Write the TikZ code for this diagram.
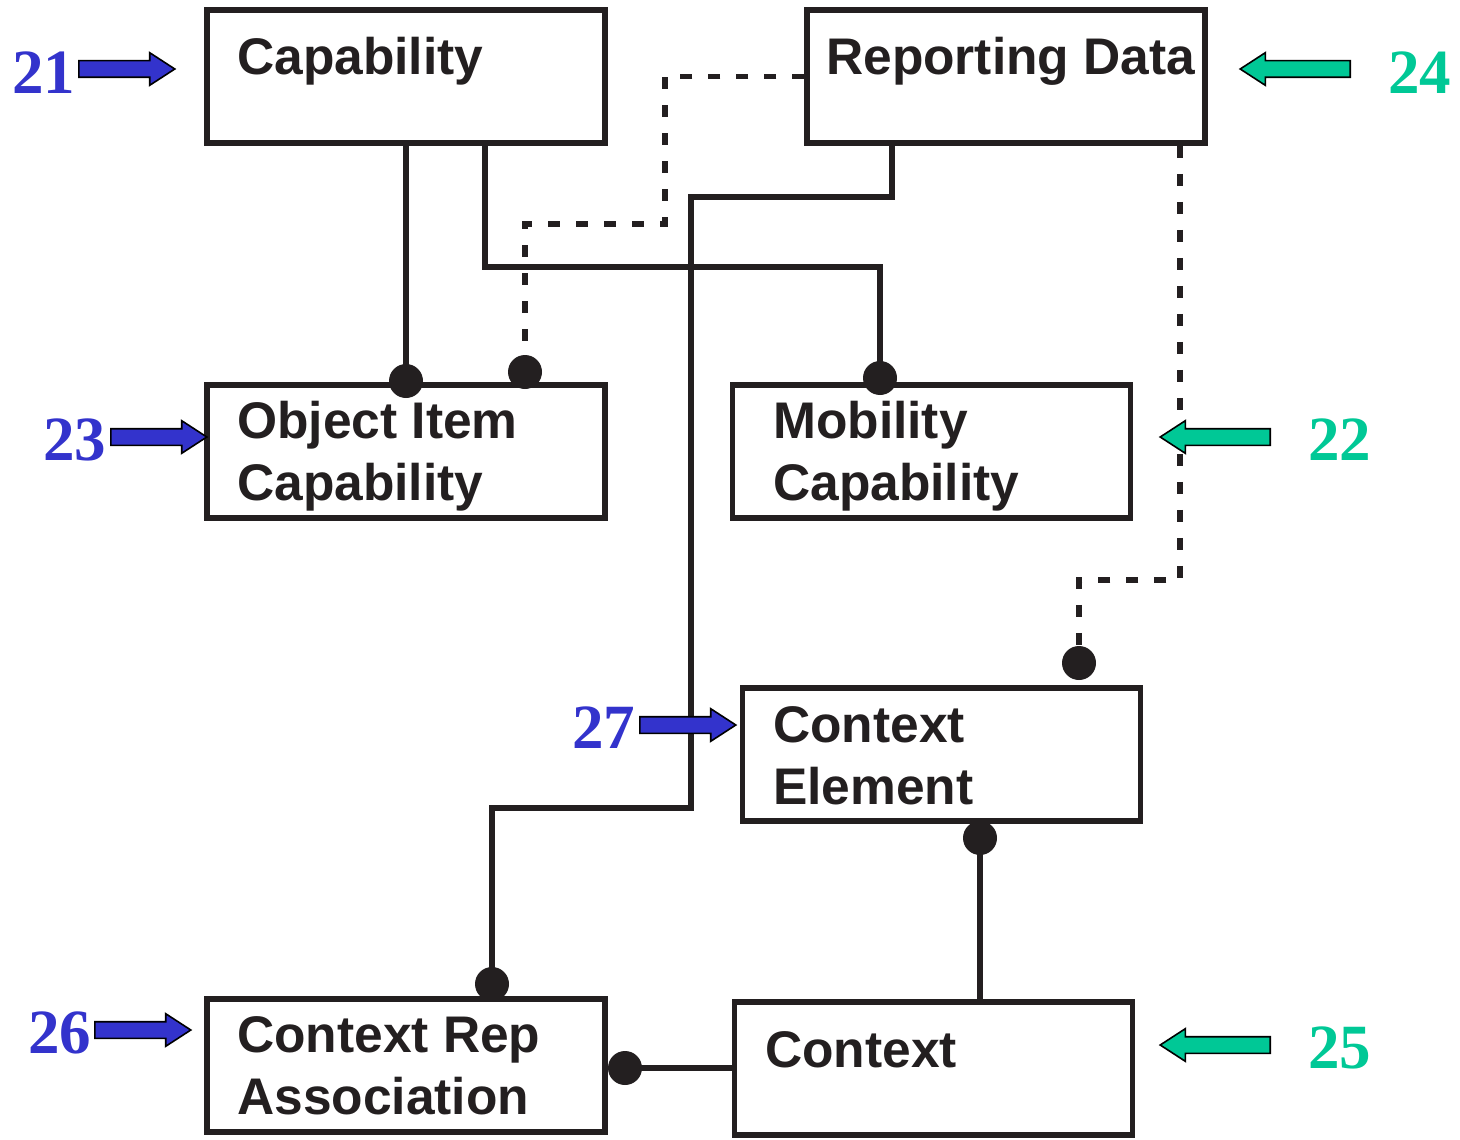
\documentclass[tikz,border=0pt]{standalone}
\usepackage{fontspec}
\setmainfont{Liberation Sans}
\newfontfamily\numfont{Liberation Serif}
\usetikzlibrary{shapes.arrows}
\definecolor{ink}{RGB}{35,31,32}
\definecolor{nblue}{RGB}{51,51,204}
\definecolor{ngreen}{RGB}{0,200,150}
\begin{document}
\begin{tikzpicture}[x=1pt,y=-1pt,
  box/.style={draw=ink,line width=5.5pt,minimum width=398pt,minimum height=133pt,inner sep=0pt},
  lbl/.style={anchor=base west,inner sep=0pt,text=ink,font=\bfseries\fontsize{51.5}{60}\selectfont},
  num/.style={anchor=base west,inner sep=0pt,font=\numfont\bfseries\fontsize{63}{63}\selectfont},
  conn/.style={draw=ink,line width=5.5pt},
  dline/.style={draw=ink,line width=5.5pt,dash pattern=on 12pt off 16pt},
  dot/.style={circle,fill=ink,inner sep=0pt,minimum size=34pt},
  arr/.style={single arrow,draw=black,line width=1.6pt,inner xsep=0pt,inner ysep=7.5pt,
    single arrow head extend=8pt,single arrow tip angle=66,anchor=tail},
  barr/.style={arr,fill=nblue,minimum height=96pt},
  garr/.style={arr,fill=ngreen,minimum height=110pt,shape border rotate=180}]
\useasboundingbox (0,0) rectangle (1460,1140);
% boxes
\node[box] (cap) at (406,76.5) {};
\node[box] (rep) at (1006,76.5) {};
\node[box] (oic) at (406,451.5) {};
\node[box] (mob) at (931.5,451.5) {};
\node[box] (ce)  at (941.5,754.5) {};
\node[box] (cra) at (406,1065.5) {};
\node[box] (ctx) at (933.5,1068.5) {};
% box texts
\node[lbl] (tcap) at (237,75) {Capability};
\node[lbl] (trep) at (826,75) {Reporting Data};
\node[lbl] (toic1) at (237,438) {Object Item};
\node[lbl] (toic2) at (237,500) {Capability};
\node[lbl] (tmob1) at (773,438) {Mobility};
\node[lbl] (tmob2) at (773,500) {Capability};
\node[lbl] (tce1) at (773,742) {Context};
\node[lbl] (tce2) at (773,804) {Element};
\node[lbl] (tcra1) at (237,1052) {Context Rep};
\node[lbl] (tcra2) at (237,1114) {Association};
\node[lbl] (tctx) at (765,1067) {Context};
% dots positions
\coordinate (d1) at (406,381);
\coordinate (d2) at (525,372);
\coordinate (d3) at (880,378);
\coordinate (d4) at (1079,663);
\coordinate (d5) at (980,838);
\coordinate (d6) at (492,984);
\coordinate (d7) at (625,1068);
% bend points
\coordinate (b1) at (485,267);
\coordinate (b2) at (892,197);
\coordinate (b3) at (691,808);
\coordinate (b4) at (665,224);
\coordinate (b6) at (1180,580);
% connectors
\draw[conn] (cap.south) -- (d1);
\draw[conn] (cap.south -| b1) -- (b1) -| (d3);
\draw[conn] (rep.south -| b2) -- (b2) -| (b3) -| (d6);
\draw[dline] (rep.west) -| (b4) -| (d2);
\draw[dline] (rep.south -| b6) -- (b6) -| (d4);
\draw[conn] (d5) -- (ctx.north -| d5);
\draw[conn] (d7) -- (ctx.west |- d7);
% dots
\foreach \d in {d1,d2,d3,d4,d5,d6,d7} \node[dot] at (\d) {};
% arrows
\node[barr] (a21) at (78,69) {};
\node[barr] (a23) at (110,437) {};
\node[barr] (a27) at (639,725) {};
\node[barr] (a26) at (94,1030) {};
\node[garr] (a24) at (1351,69) {};
\node[garr] (a22) at (1271,437) {};
\node[garr] (a25) at (1271,1045) {};
% numbers
\node[num,text=nblue] (n21) at (12,93) {21};
\node[num,text=nblue] (n23) at (43,460) {23};
\node[num,text=nblue] (n27) at (572,748) {27};
\node[num,text=nblue] (n26) at (28,1053) {26};
\node[num,text=ngreen] (n24) at (1388,93) {24};
\node[num,text=ngreen] (n22) at (1308,460) {22};
\node[num,text=ngreen] (n25) at (1308,1068) {25};
\end{tikzpicture}
\end{document}
